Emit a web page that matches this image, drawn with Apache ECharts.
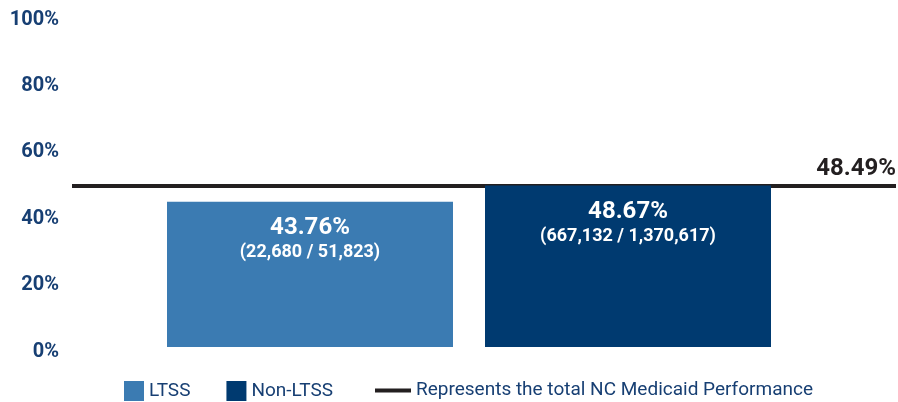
<!DOCTYPE html>
<html>
<head>
<meta charset="utf-8">
<script src="https://cdn.jsdelivr.net/npm/echarts@6/dist/echarts.min.js"></script>
<style>
html, body { margin: 0; padding: 0; background: #fff; }
#chart { width: 898px; height: 402px; }
</style>
</head>
<body>
<div id="chart"></div>
<script>
// data
var categories = ['LTSS', 'Non-LTSS'];
var rates = [43.76, 48.67];
var numerators = [22680, 667132];
var denominators = [51823, 1370617];
var totalRate = 48.49;
var barColors = ['#3b7bb2', '#003a70'];

var FONT = "Roboto, 'Noto Sans', sans-serif";
var NAVY = '#173f73';

function fmt(n) {
    return n.toLocaleString('en-US');
}

var myChart = echarts.init(document.getElementById('chart'));

var option = {
    animation: false,
    textStyle: { fontFamily: FONT },
    grid: [
        { left: 151, right: 111, top: 15, bottom: 55, outerBoundsMode: 'none' },   // bars
        { left: 72, right: 2, top: 15, bottom: 55, outerBoundsMode: 'none' }       // reference line
    ],
    xAxis: [
        {
            gridIndex: 0, type: 'category', data: categories,
            axisLine: { show: false }, axisTick: { show: false }, axisLabel: { show: false }
        },
        {
            gridIndex: 1, type: 'value', min: 0, max: 1, show: false
        }
    ],
    yAxis: [
        {
            gridIndex: 0, type: 'value', min: 0, max: 100, interval: 20, show: false
        },
        {
            gridIndex: 1, type: 'value', min: 0, max: 100, interval: 20,
            splitLine: { show: false }, axisLine: { show: false }, axisTick: { show: false },
            axisLabel: {
                formatter: '{value}%', color: NAVY, fontFamily: FONT,
                fontWeight: 'bold', fontSize: 20, margin: 13,
                verticalAlign: 'top', lineHeight: 9
            }
        }
    ],
    legend: [
        {
            left: 124, top: 381, padding: 0, itemWidth: 20, itemHeight: 20, itemGap: 36,
            icon: 'rect',
            data: categories,
            textStyle: { color: NAVY, fontSize: 19, fontFamily: FONT }
        },
        {
            left: 375, top: 381, padding: 0, itemWidth: 36, itemHeight: 4,
            icon: 'rect',
            data: ['Represents the total NC Medicaid Performance'],
            textStyle: { color: NAVY, fontSize: 19, fontFamily: FONT }
        }
    ],
    series: categories.map(function (c, i) {
        var d = [null, null];
        d[i] = rates[i];
        return {
            name: c, type: 'bar', xAxisIndex: 0, yAxisIndex: 0,
            stack: 'all', barWidth: 286, z: 5,
            itemStyle: { color: barColors[i] },
            label: {
                show: true, position: 'insideTop', distance: 13,
                formatter: function (p) {
                    return '{a|' + p.value.toFixed(2) + '%}\n{b|(' + fmt(numerators[i]) + ' / ' + fmt(denominators[i]) + ')}';
                },
                rich: {
                    a: { color: '#fff', fontFamily: FONT, fontWeight: 'bold', fontSize: 24, lineHeight: 27 },
                    b: { color: '#fff', fontFamily: FONT, fontWeight: 'bold', fontSize: 18, lineHeight: 22 }
                }
            },
            data: d
        };
    }).concat([
        {
            name: 'Represents the total NC Medicaid Performance',
            type: 'line', xAxisIndex: 1, yAxisIndex: 1,
            symbol: 'circle', symbolSize: 0, showSymbol: true,
            itemStyle: { color: '#231f20' },
            lineStyle: { color: '#231f20', width: 4 },
            z: 1,
            data: [
                [0, totalRate],
                {
                    value: [1, totalRate],
                    label: {
                        show: true, position: 'top', align: 'right', distance: 5,
                        formatter: totalRate.toFixed(2) + '%',
                        color: '#231f20', fontFamily: FONT, fontWeight: 'bold', fontSize: 24
                    }
                }
            ]
        }
    ])
};

myChart.setOption(option);
window.addEventListener('resize', function () { myChart.resize(); });
</script>
</body>
</html>
